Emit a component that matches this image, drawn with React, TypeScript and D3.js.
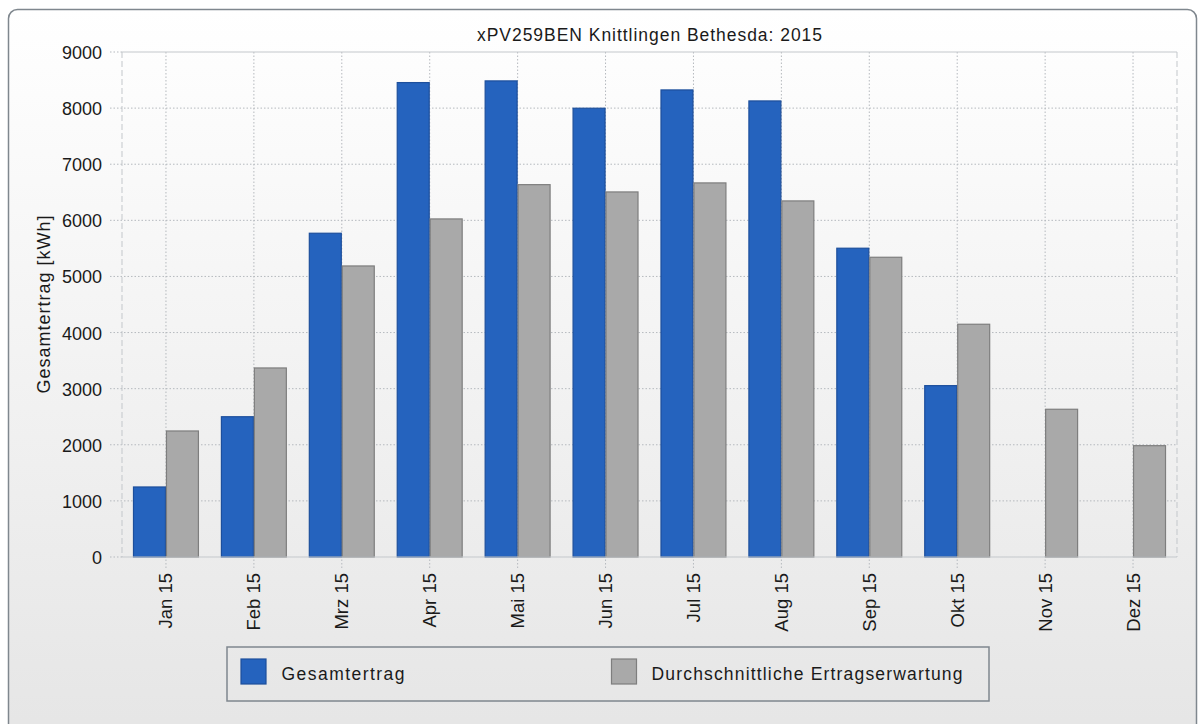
import React from "react";
import * as d3 from "d3";

const title = "xPV259BEN Knittlingen Bethesda: 2015";
const yAxisLabel = "Gesamtertrag [kWh]";
const months = ["Jan 15", "Feb 15", "Mrz 15", "Apr 15", "Mai 15", "Jun 15", "Jul 15", "Aug 15", "Sep 15", "Okt 15", "Nov 15", "Dez 15"];
const seriesNames = ["Gesamtertrag", "Durchschnittliche Ertragserwartung"];
const gesamtertrag: (number | null)[] = [1248, 2500, 5770, 8455, 8485, 7998, 8324, 8128, 5503, 3054, null, null];
const erwartung: (number | null)[] = [2246, 3369, 5187, 6025, 6636, 6506, 6667, 6346, 5342, 4148, 2633, 1984];
const yTicks = [0, 1000, 2000, 3000, 4000, 5000, 6000, 7000, 8000, 9000];

const W = 1199;
const H = 724;
const plot = { left: 122, right: 1177, top: 52, bottom: 557 };
const FONT = "'Liberation Sans', Arial, sans-serif";
const colors = { fill: ["#2563be", "#a9a9a9"], stroke: ["#1d4f9c", "#7e7e7e"] };
const gridColor = "#b5b9be";

export default function App() {
  const x = d3.scaleBand<string>().domain(months).range([plot.left, plot.right]).paddingInner(0.25).paddingOuter(0.125);
  const sub = d3.scaleBand<string>().domain(seriesNames).range([0, x.bandwidth()]).padding(0);
  const y = d3.scaleLinear().domain([0, 9000]).range([plot.bottom, plot.top]);
  const series = [gesamtertrag, erwartung];

  return (
    <svg width={W} height={H} style={{ position: "absolute", left: 0, top: 0 }} fontFamily={FONT}>
      <defs>
        <linearGradient id="bg" x1="0" y1="0" x2="0" y2="1">
          <stop offset="0" stopColor="#ffffff" />
          <stop offset="1" stopColor="#e5e5e5" />
        </linearGradient>
      </defs>
      <rect x={8.5} y={9.5} width={1188} height={740} rx={9} fill="url(#bg)" stroke="#7f878e" strokeWidth={1.5} />

      {/* grid */}
      {yTicks.filter((t) => t > 0 && t < 9000).map((t) => (
        <line key={"gy" + t} x1={110} x2={plot.right} y1={y(t)} y2={y(t)} stroke={gridColor} strokeDasharray="1.5,2" />
      ))}
      {months.map((m) => {
        const cx = (x(m) as number) + x.bandwidth() / 2;
        return <line key={"gx" + m} x1={cx} x2={cx} y1={plot.top} y2={plot.bottom + 13} stroke={gridColor} strokeDasharray="1.5,2" />;
      })}
      <line x1={110} x2={plot.left} y1={y(0)} y2={y(0)} stroke={gridColor} strokeDasharray="1.5,2" />
      <line x1={110} x2={plot.left} y1={y(9000)} y2={y(9000)} stroke={gridColor} strokeDasharray="1.5,2" />

      {/* plot border */}
      <line x1={plot.left} x2={plot.right} y1={plot.top} y2={plot.top} stroke="#c3c7cb" strokeWidth={1.2} />
      <line x1={plot.left} x2={plot.left} y1={plot.top} y2={plot.bottom} stroke="#c3c7cb" strokeDasharray="6,3" />
      <line x1={plot.right} x2={plot.right} y1={plot.top} y2={plot.bottom} stroke="#c3c7cb" strokeDasharray="6,3" />

      {/* bars */}
      {series.map((vals, si) =>
        vals.map((v, i) =>
          v == null ? null : (
            <rect
              key={si + "-" + i}
              x={(x(months[i]) as number) + (sub(seriesNames[si]) as number) + 0.5}
              y={y(v)}
              width={sub.bandwidth() - 1}
              height={y(0) - y(v)}
              fill={colors.fill[si]}
              stroke={colors.stroke[si]}
              strokeWidth={1.2}
            />
          )
        )
      )}

      <line x1={plot.left} x2={plot.right} y1={plot.bottom} y2={plot.bottom} stroke="#c3c7cb" strokeWidth={1.2} />

      {/* y tick labels */}
      {yTicks.map((t) => (
        <text key={"yt" + t} x={102} y={y(t) + 7} textAnchor="end" fontSize={18} fill="#1a1a1a">
          {t}
        </text>
      ))}

      {/* x tick labels */}
      {months.map((m) => {
        const cx = (x(m) as number) + x.bandwidth() / 2 + 6.5;
        return (
          <text key={"xt" + m} transform={`translate(${cx},573) rotate(-90)`} textAnchor="end" fontSize={18.5} fill="#1a1a1a">
            {m}
          </text>
        );
      })}

      {/* title */}
      <text x={(plot.left + plot.right) / 2 - 172.5} y={41} fontSize={17.5} fill="#1a1a1a" textLength={345} lengthAdjust="spacing">
        {title}
      </text>

      {/* y axis label */}
      <text transform={`translate(50,${(plot.top + plot.bottom) / 2 + 89}) rotate(-90)`} fontSize={18} fill="#1a1a1a" textLength={178} lengthAdjust="spacing">
        {yAxisLabel}
      </text>

      {/* legend */}
      <rect x={227} y={647} width={762} height={54} fill="none" stroke="#7f878e" strokeWidth={1.5} />
      <rect x={241} y={659} width={25} height={25} fill={colors.fill[0]} stroke={colors.stroke[0]} strokeWidth={1.2} />
      <text x={281.5} y={680} fontSize={17.5} fill="#1a1a1a" textLength={123} lengthAdjust="spacing">
        {seriesNames[0]}
      </text>
      <rect x={611.5} y={659} width={25} height={25} fill={colors.fill[1]} stroke={colors.stroke[1]} strokeWidth={1.2} />
      <text x={651.5} y={680} fontSize={17.5} fill="#1a1a1a" textLength={311} lengthAdjust="spacing">
        {seriesNames[1]}
      </text>
    </svg>
  );
}
